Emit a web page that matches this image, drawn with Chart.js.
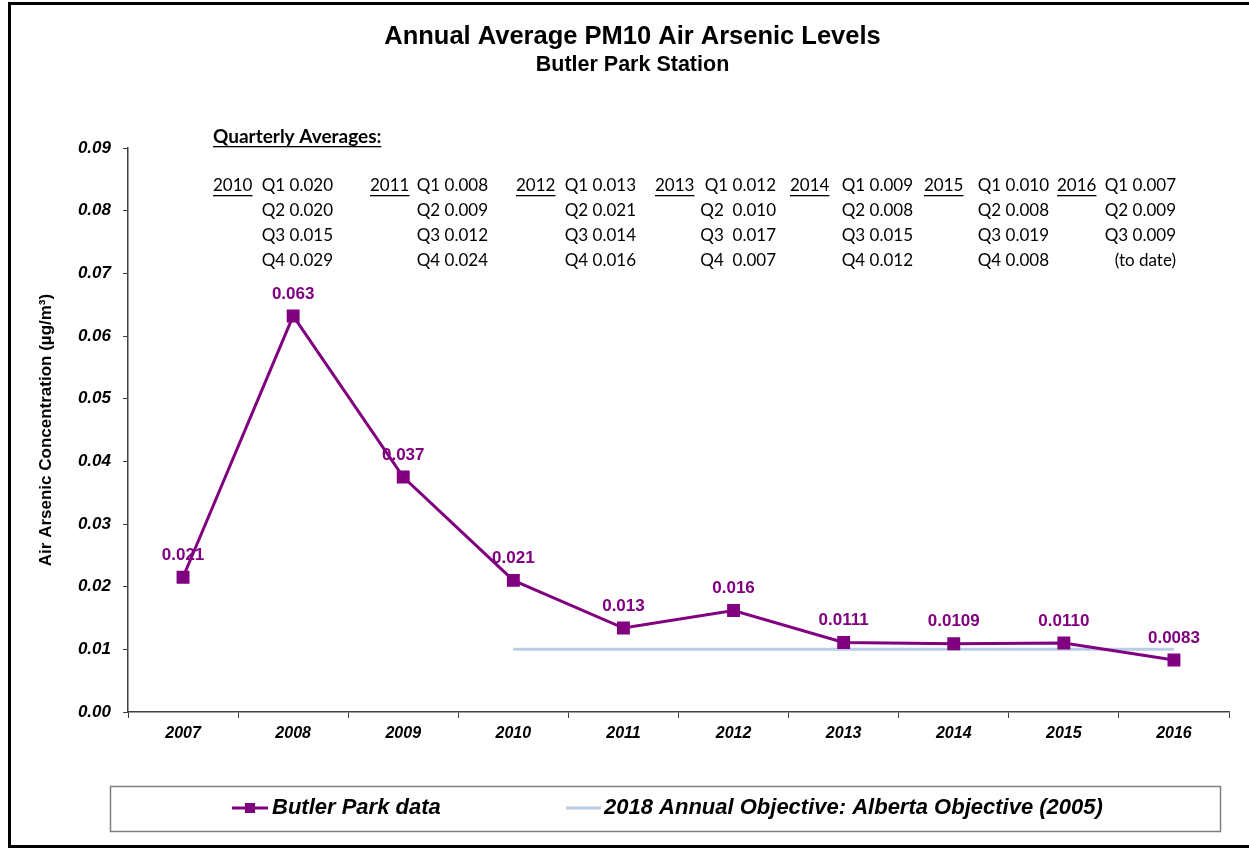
<!DOCTYPE html>
<html>
<head>
<meta charset="utf-8">
<script src="https://cdn.jsdelivr.net/npm/chart.js@4/dist/chart.umd.min.js"></script>
<style>
  html, body { margin: 0; padding: 0; background: #fff; overflow: hidden; }
  #frame { position: absolute; left: 8px; top: 2px; width: 1260px; height: 840px; border: 3px solid #000; }
  #chart { position: absolute; left: 0; top: 0; }
</style>
</head>
<body>
<div id="frame"></div>
<canvas id="chart" width="1249" height="848"></canvas>
<script>
// chart data
const years = ['2007', '2008', '2009', '2010', '2011', '2012', '2013', '2014', '2015', '2016'];
const butlerPark = [0.0215, 0.0632, 0.0375, 0.0210, 0.0134, 0.0162, 0.0111, 0.0109, 0.0110, 0.0083];
const pointLabels = ['0.021', '0.063', '0.037', '0.021', '0.013', '0.016', '0.0111', '0.0109', '0.0110', '0.0083'];
const objective = [null, null, null, 0.01, 0.01, 0.01, 0.01, 0.01, 0.01, 0.01];
const yTicks = [0, 0.01, 0.02, 0.03, 0.04, 0.05, 0.06, 0.07, 0.08, 0.09];

// quarterly averages shown above the plot
const quarterYears = ['2010', '2011', '2012', '2013', '2014', '2015', '2016'];
const quarterRows = [
  ['Q1 0.020', 'Q2 0.020', 'Q3 0.015', 'Q4 0.029'],
  ['Q1 0.008', 'Q2 0.009', 'Q3 0.012', 'Q4 0.024'],
  ['Q1 0.013', 'Q2 0.021', 'Q3 0.014', 'Q4 0.016'],
  ['Q1 0.012', 'Q2  0.010', 'Q3  0.017', 'Q4  0.007'],
  ['Q1 0.009', 'Q2 0.008', 'Q3 0.015', 'Q4 0.012'],
  ['Q1 0.010', 'Q2 0.008', 'Q3 0.019', 'Q4 0.008'],
  ['Q1 0.007', 'Q2 0.009', 'Q3 0.009', '(to date)']
];

const purple = '#800080';
const lightBlue = '#b9cde5';
const arial = 'Arial, "Liberation Sans", sans-serif';

const valueLabels = {
  id: 'valueLabels',
  afterDatasetsDraw(chart) {
    const ctx = chart.ctx;
    const meta = chart.getDatasetMeta(0);
    ctx.save();
    ctx.font = 'bold 17px ' + arial;
    ctx.fillStyle = purple;
    ctx.textAlign = 'center';
    ctx.textBaseline = 'middle';
    meta.data.forEach((pt, i) => {
      ctx.fillText(pointLabels[i], pt.x, pt.y - 22);
    });
    ctx.restore();
  }
};

function underlined(ctx, text, x, y) {
  ctx.fillText(text, x, y);
  const w = ctx.measureText(text).width;
  ctx.fillRect(x, y + 9, w, 1.3);
}

const quarterNotes = {
  id: 'quarterNotes',
  afterDraw(chart) {
    const ctx = chart.ctx;
    const yearX = [213, 370, 516, 655, 790, 924, 1057];
    const rightX = [333, 488, 636, 776, 913, 1049, 1176];
    ctx.save();
    ctx.fillStyle = '#000';
    ctx.textBaseline = 'middle';
    ctx.font = 'bold 19px Lato, "Open Sans", sans-serif';
    ctx.textAlign = 'left';
    underlined(ctx, 'Quarterly Averages:', 213, 137);
    ctx.font = '17px Lato, "Open Sans", sans-serif';
    quarterYears.forEach((yr, c) => {
      ctx.textAlign = 'left';
      underlined(ctx, yr, yearX[c], 186);
      ctx.textAlign = 'right';
      quarterRows[c].forEach((txt, r) => {
        ctx.fillText(txt, rightX[c], 186 + r * 24.7);
      });
    });
    ctx.restore();
  }
};

const boxedLegend = {
  id: 'boxedLegend',
  afterDraw(chart) {
    const ctx = chart.ctx;
    const ds = chart.data.datasets;
    ctx.save();
    ctx.strokeStyle = '#7f7f7f';
    ctx.lineWidth = 1.5;
    ctx.strokeRect(110.5, 786.5, 1110, 45);
    const cy = 808;
    ctx.font = 'italic bold 22px ' + arial;
    ctx.textBaseline = 'middle';
    ctx.fillStyle = '#000';
    // series 1: line with square marker
    ctx.strokeStyle = ds[0].borderColor;
    ctx.lineWidth = 3;
    ctx.beginPath(); ctx.moveTo(232, cy); ctx.lineTo(268, cy); ctx.stroke();
    ctx.fillStyle = ds[0].pointBackgroundColor;
    ctx.fillRect(245, cy - 5, 10, 10);
    ctx.fillStyle = '#000';
    ctx.fillText(ds[0].label, 272, cy);
    // series 2: plain line
    ctx.strokeStyle = ds[1].borderColor;
    ctx.beginPath(); ctx.moveTo(566, cy); ctx.lineTo(601, cy); ctx.stroke();
    ctx.fillText(ds[1].label, 604, cy);
    ctx.restore();
  }
};

new Chart(document.getElementById('chart'), {
  type: 'line',
  data: {
    labels: years,
    datasets: [
      {
        label: 'Butler Park data',
        data: butlerPark,
        borderColor: purple,
        backgroundColor: purple,
        pointBackgroundColor: purple,
        pointBorderColor: purple,
        borderWidth: 3,
        pointStyle: 'rect',
        pointRadius: 7,
        tension: 0
      },
      {
        label: '2018 Annual Objective: Alberta Objective (2005)',
        data: objective,
        borderColor: lightBlue,
        backgroundColor: lightBlue,
        borderWidth: 3,
        pointRadius: 0,
        tension: 0
      }
    ]
  },
  options: {
    responsive: false,
    devicePixelRatio: 1,
    animation: false,
    layout: { padding: { left: 36, right: 20, top: 0, bottom: 0 } },
    plugins: {
      legend: { display: false },
      tooltip: { enabled: false },
      title: {
        display: true,
        text: 'Annual Average PM10 Air Arsenic Levels',
        color: '#000',
        font: { family: arial, size: 25.5, weight: 'bold' },
        padding: { top: 22, bottom: 0 }
      },
      subtitle: {
        display: true,
        text: 'Butler Park Station',
        color: '#000',
        font: { family: arial, size: 21.5, weight: 'bold' },
        padding: { top: 0, bottom: 69.6 }
      }
    },
    scales: {
      x: {
        offset: true,
        grid: { offset: true, drawOnChartArea: false, drawTicks: true, tickLength: 6, color: '#404040' },
        border: { color: '#404040', width: 1.5 },
        ticks: { color: '#000', padding: 6, font: { family: arial, size: 16, weight: 'bold', style: 'italic' } },
        afterFit(scale) { scale.height = 136; }
      },
      y: {
        min: 0,
        max: 0.09,
        afterBuildTicks(scale) { scale.ticks = yTicks.map(v => ({ value: v })); },
        grid: { drawOnChartArea: false, drawTicks: true, tickLength: 5, color: '#404040' },
        border: { color: '#404040', width: 1.5 },
        ticks: {
          color: '#000',
          padding: 12,
          font: { family: arial, size: 17, weight: 'bold', style: 'italic' },
          callback: v => v.toFixed(2)
        },
        title: {
          display: true,
          text: 'Air Arsenic Concentration (µg/m³)',
          color: '#000',
          padding: 0,
          font: { family: arial, size: 17, weight: 'bold' }
        },
        afterFit(scale) { scale.width = 92; }
      }
    }
  },
  plugins: [valueLabels, quarterNotes, boxedLegend]
});
</script>
</body>
</html>
